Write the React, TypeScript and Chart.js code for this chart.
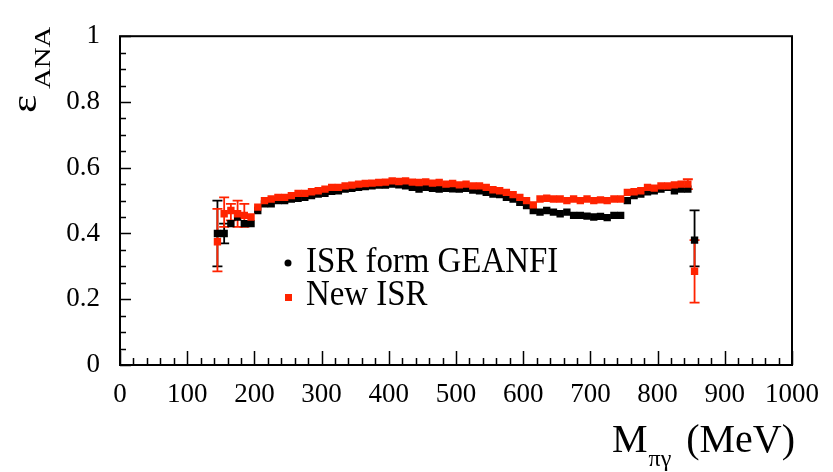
import React, { useEffect, useRef } from "react";
import { Chart, registerables } from "chart.js";

Chart.register(...registerables);

// ---- data ----
const massBins = [
  145, 155, 165, 175, 185, 195, 205, 215, 225, 235, 245, 255, 265, 275, 285, 295,
  305, 315, 325, 335, 345, 355, 365, 375, 385, 395, 405, 415, 425, 435, 445, 455,
  465, 475, 485, 495, 505, 515, 525, 535, 545, 555, 565, 575, 585, 595, 605, 615,
  625, 635, 645, 655, 665, 675, 685, 695, 705, 715, 725, 735, 745, 755, 765, 775,
  785, 795, 805, 815, 825, 835, 845, 855,
];

const geanfiEff = [
  0.40, 0.40, 0.43, 0.45, 0.43, 0.43, 0.47, 0.49, 0.49, 0.50, 0.50, 0.505, 0.507, 0.51, 0.515, 0.52,
  0.522, 0.528, 0.53, 0.535, 0.537, 0.54, 0.543, 0.545, 0.547, 0.547, 0.55, 0.548, 0.545, 0.54, 0.535, 0.54,
  0.537, 0.535, 0.537, 0.536, 0.535, 0.537, 0.532, 0.53, 0.525, 0.52, 0.518, 0.51, 0.505, 0.495, 0.485, 0.47,
  0.465, 0.47, 0.465, 0.46, 0.465, 0.455, 0.455, 0.453, 0.45, 0.452, 0.448, 0.455, 0.455, 0.50, 0.515, 0.52,
  0.527, 0.53, 0.535, 0.54, 0.53, 0.535, 0.535, 0.38,
];

const newIsrEff = [
  0.375, 0.46, 0.47, 0.46, 0.455, 0.45, 0.48, 0.50, 0.505, 0.51, 0.51, 0.515, 0.522, 0.522, 0.527, 0.53,
  0.535, 0.54, 0.54, 0.545, 0.547, 0.55, 0.552, 0.553, 0.555, 0.556, 0.56, 0.558, 0.56, 0.556, 0.555, 0.557,
  0.553, 0.555, 0.55, 0.552, 0.548, 0.55, 0.545, 0.545, 0.54, 0.533, 0.53, 0.525, 0.518, 0.51, 0.50, 0.487,
  0.505, 0.507, 0.505, 0.505, 0.50, 0.505, 0.50, 0.505, 0.50, 0.502, 0.50, 0.505, 0.505, 0.525, 0.527, 0.53,
  0.54, 0.538, 0.545, 0.545, 0.548, 0.55, 0.55, 0.285,
];

// error bars (only where visible)
const geanfiErrMass = [145, 155, 855];
const geanfiErrLow = [0.30, 0.37, 0.30];
const geanfiErrHigh = [0.50, 0.43, 0.47];

const newIsrErrMass = [145, 155, 165, 175, 185, 845, 855];
const newIsrErrLow = [0.285, 0.42, 0.44, 0.42, 0.42, 0.535, 0.19];
const newIsrErrHigh = [0.475, 0.51, 0.49, 0.50, 0.49, 0.565, 0.38];

const xTickValues = [0, 100, 200, 300, 400, 500, 600, 700, 800, 900, 1000];
const yTickLabels = ["0", "0.2", "0.4", "0.6", "0.8", "1"];

const legendLabels = ["ISR form GEANFI", "New ISR"];

const BLACK = "#000000";
const RED = "rgb(255,35,0)";
const SERIF = "'Liberation Serif', 'DejaVu Serif', serif";

function drawErr(chart: any, masses: number[], lo: number[], hi: number[], color: string) {
  const ctx = chart.ctx;
  const xs = chart.scales.x;
  const ys = chart.scales.y;
  ctx.save();
  ctx.strokeStyle = color;
  ctx.lineWidth = 1.8;
  for (let i = 0; i < masses.length; i++) {
    const x = xs.getPixelForValue(masses[i]);
    const y1 = ys.getPixelForValue(lo[i]);
    const y2 = ys.getPixelForValue(hi[i]);
    ctx.beginPath();
    ctx.moveTo(x, y1);
    ctx.lineTo(x, y2);
    ctx.moveTo(x - 5, y1);
    ctx.lineTo(x + 5, y1);
    ctx.moveTo(x - 5, y2);
    ctx.lineTo(x + 5, y2);
    ctx.stroke();
  }
  ctx.restore();
}

const framePlugin = {
  id: "rootFrame",
  beforeDatasetsDraw(chart: any) {
    drawErr(chart, geanfiErrMass, geanfiErrLow, geanfiErrHigh, BLACK);
    drawErr(chart, newIsrErrMass, newIsrErrLow, newIsrErrHigh, RED);
  },
  afterDraw(chart: any) {
    const ctx = chart.ctx;
    const a = chart.chartArea;
    const xs = chart.scales.x;
    const ys = chart.scales.y;
    ctx.save();
    // frame
    ctx.strokeStyle = "#000";
    ctx.lineWidth = 2;
    ctx.strokeRect(a.left, a.top, a.right - a.left, a.bottom - a.top);
    // ticks
    ctx.lineWidth = 1.5;
    ctx.beginPath();
    for (let v = 0; v <= 1000; v += 20) {
      const x = Math.round(xs.getPixelForValue(v)) + 0.5;
      const len = v % 100 === 0 ? 14 : 7;
      ctx.moveTo(x, a.bottom);
      ctx.lineTo(x, a.bottom - len);
    }
    for (let k = 0; k <= 20; k++) {
      const v = k * 0.05;
      const y = Math.round(ys.getPixelForValue(v)) + 0.5;
      const len = k % 4 === 0 ? 11 : 6;
      ctx.moveTo(a.left, y);
      ctx.lineTo(a.left + len, y);
    }
    ctx.stroke();

    ctx.fillStyle = "#000";
    // y title: epsilon_ANA (rotated)
    ctx.save();
    ctx.translate(36, 113);
    ctx.rotate(-Math.PI / 2);
    ctx.scale(1.2, 1);
    ctx.font = `36px ${SERIF}`;
    ctx.textBaseline = "alphabetic";
    ctx.textAlign = "left";
    ctx.fillText("ε", 0, 0);
    ctx.font = `24px ${SERIF}`;
    ctx.fillText("ANA", 20, 14);
    ctx.restore();

    // x title: M_{πγ} (MeV)
    ctx.save();
    ctx.textBaseline = "alphabetic";
    ctx.textAlign = "left";
    ctx.font = `40px ${SERIF}`;
    ctx.fillText("M", 612, 452);
    const mW = ctx.measureText("M").width;
    ctx.font = `24px ${SERIF}`;
    ctx.fillText("πγ", 612 + mW + 1, 466);
    ctx.font = `40px ${SERIF}`;
    ctx.textAlign = "right";
    ctx.fillText("(MeV)", 795, 452);
    ctx.restore();

    // legend
    ctx.save();
    ctx.fillStyle = BLACK;
    ctx.beginPath();
    ctx.arc(288, 263, 3.5, 0, Math.PI * 2);
    ctx.fill();
    ctx.fillStyle = RED;
    ctx.fillRect(285, 294, 7, 7);
    ctx.fillStyle = "#000";
    ctx.font = `35px ${SERIF}`;
    ctx.textBaseline = "alphabetic";
    ctx.textAlign = "left";
    ctx.save();
    ctx.translate(306, 272);
    ctx.scale(0.94, 1);
    ctx.fillText(legendLabels[0], 0, 0);
    ctx.restore();
    ctx.save();
    ctx.translate(306, 305);
    ctx.scale(0.94, 1);
    ctx.fillText(legendLabels[1], 0, 0);
    ctx.restore();
    ctx.restore();

    ctx.restore();
  },
};

export default function App() {
  const canvasRef = useRef<HTMLCanvasElement | null>(null);

  useEffect(() => {
    document.body.style.margin = "0";
    const canvas = canvasRef.current!;
    const chart = new Chart(canvas, {
      type: "scatter",
      data: {
        datasets: [
          {
            label: legendLabels[1],
            data: massBins.map((m, i) => ({ x: m, y: newIsrEff[i] })),
            pointStyle: "rect",
            pointRadius: 5.2,
            pointHoverRadius: 5.2,
            backgroundColor: RED,
            borderColor: RED,
            borderWidth: 0,
            showLine: false,
          },
          {
            label: legendLabels[0],
            data: massBins.map((m, i) => ({ x: m, y: geanfiEff[i] })),
            pointStyle: "rect",
            pointRadius: 5.2,
            pointHoverRadius: 5.2,
            backgroundColor: BLACK,
            borderColor: BLACK,
            borderWidth: 0,
            showLine: false,
          },
        ],
      },
      options: {
        responsive: false,
        animation: false,
        devicePixelRatio: 1,
        layout: { padding: { left: 0, right: 39, top: 20, bottom: 0 } },
        plugins: {
          legend: { display: false },
          tooltip: { enabled: false },
        },
        scales: {
          x: {
            type: "linear",
            min: 0,
            max: 1000,
            afterFit: (s: any) => {
              s.height = 107;
            },
            afterBuildTicks: (s: any) => {
              s.ticks = xTickValues.map((v) => ({ value: v }));
            },
            ticks: {
              autoSkip: false,
              maxRotation: 0,
              padding: 14,
              color: "#000",
              font: { family: SERIF, size: 27 },
              callback: (v: any) => String(v),
            },
            grid: { display: false, drawTicks: false },
            border: { display: false },
          },
          y: {
            type: "linear",
            min: 0,
            max: 1,
            afterFit: (s: any) => {
              s.width = 120;
            },
            ticks: {
              stepSize: 0.2,
              padding: 20,
              color: "#000",
              font: { family: SERIF, size: 27 },
              callback: (v: any, i: number) => yTickLabels[i] ?? String(v),
            },
            grid: { display: false, drawTicks: false },
            border: { display: false },
          },
        },
      },
      plugins: [framePlugin],
    });
    return () => chart.destroy();
  }, []);

  return (
    <div style={{ width: 833, height: 472, background: "#fff" }}>
      <canvas ref={canvasRef} width={833} height={472} style={{ display: "block" }} />
    </div>
  );
}
